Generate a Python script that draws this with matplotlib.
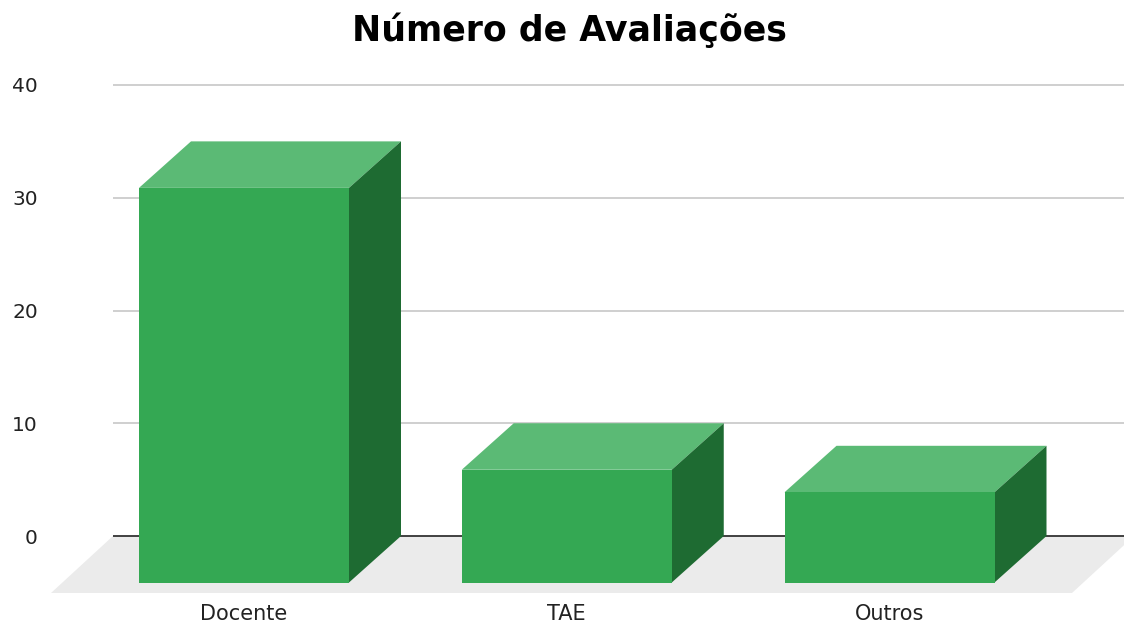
import matplotlib
matplotlib.use("Agg")
import matplotlib.pyplot as plt
from matplotlib.patches import Polygon, Rectangle

categories = ["Docente", "TAE", "Outros"]
values = [35, 10, 8]
yticks = [0, 10, 20, 30, 40]
title = "Número de Avaliações"

W, H = 1124, 623
plt.rcParams['font.family'] = ['DejaVu Sans']
fig = plt.figure(figsize=(W / 100, H / 100), dpi=100)

left_px = 113
ax = fig.add_axes([left_px / W, 0, 1 - left_px / W, 1])
# data mapping: y=0 at pixel 536, y=40 at pixel 85
ppu_y = (536 - 85) / 40.0
ax.set_ylim(-(H - 536) / ppu_y, 40 + 85 / ppu_y)
ppu_x = 322.75
x0_px = 244
ax.set_xlim((left_px - x0_px) / ppu_x, (W - x0_px) / ppu_x)

for s in ax.spines.values():
    s.set_visible(False)

# depth offsets
dx = 52 / ppu_x
dy = 46.5 / ppu_y
bw = 210 / ppu_x

# floor
f_dx = 62 / ppu_x
f_dy = 57 / ppu_y
floor_front_l = (51 - x0_px) / ppu_x
floor_front_r = (1072 - x0_px) / ppu_x
floor = Polygon([(floor_front_l, -f_dy), (floor_front_r, -f_dy),
                 (floor_front_r + f_dx, 0), (floor_front_l + f_dx, 0)],
                closed=True, facecolor="#ebebeb", edgecolor="none",
                clip_on=False, zorder=0)
ax.add_patch(floor)

# gridlines
for t in yticks:
    if t == 0:
        ax.axhline(t, color="#333333", lw=1.3, zorder=1)
    else:
        ax.axhline(t, color="#cccccc", lw=1.3, zorder=1)

ax.set_yticks(yticks)
ax.set_yticklabels([str(t) for t in yticks], fontsize=14.5, color="#222222")
ax.tick_params(axis='y', length=0, pad=54)
ax.set_xticks([])

front_c = "#34a853"
top_c = "#5bba75"
side_c = "#1e6b32"
for i, v in enumerate(values):
    l = i - bw / 2
    r = i + bw / 2
    # top face
    ax.add_patch(Polygon([(l, v - dy), (r, v - dy), (r + dx, v), (l + dx, v)],
                         closed=True, facecolor=top_c, edgecolor="none", zorder=3))
    # side face
    ax.add_patch(Polygon([(r, -dy), (r + dx, 0), (r + dx, v), (r, v - dy)],
                         closed=True, facecolor=side_c, edgecolor="none", zorder=3))
    # front face
    ax.add_patch(Rectangle((l, -dy), bw, v, facecolor=front_c, edgecolor="none", zorder=4))
    ax.text(i, -(620 - 536) / ppu_y, categories[i], ha="center", va="baseline",
            fontsize=15, color="#222222")

fig.text(569.5 / W, 1 - 41 / H, title, ha="center", va="baseline",
         fontsize=25, fontweight="bold", color="#000000")

fig.savefig("out.png", dpi=100)
